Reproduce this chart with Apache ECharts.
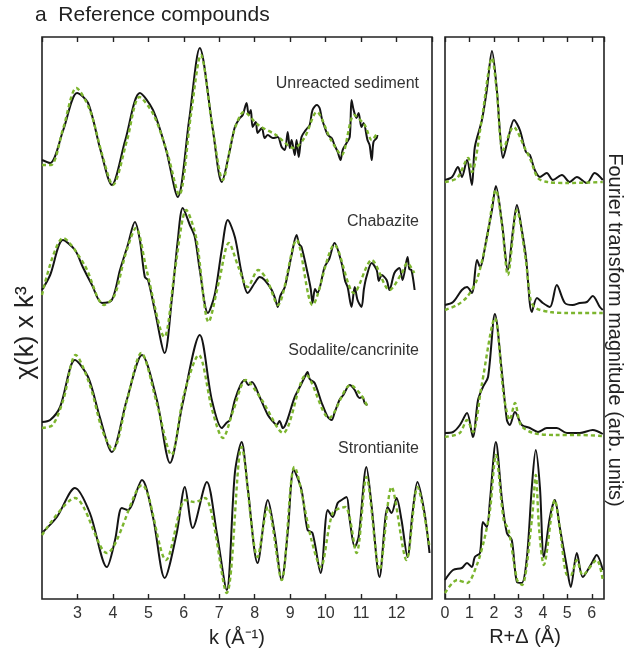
<!DOCTYPE html>
<html>
<head>
<meta charset="utf-8">
<script src="https://cdn.jsdelivr.net/npm/echarts@6/dist/echarts.min.js"></script>
<style>
  html, body { margin: 0; padding: 0; background: #fff; }
  #chart { width: 628px; height: 654px; }
</style>
</head>
<body>
<div id="chart"></div>
<script>
// EXAFS chi(k)*k^3, stacked traces (arbitrary units), [k, value]
var sedimentData = [[2.0,439],[2.23,436],[2.6,469],[2.99,506],[3.3,496],[3.65,449],[3.97,414],[4.35,459],[4.76,506],[5.13,489],[5.5,449],[5.83,402],[6.15,479],[6.45,551],[6.82,469],[7.07,417],[7.3,449],
  [7.44,472],[7.58,481],[7.66,484],[7.77,496],[7.83,484],[7.89,489],[7.94,472],[8.03,477],[8.08,466],[8.2,471],[8.28,461],[8.37,464],[8.51,461],[8.65,462],[8.76,452],[8.85,449],[8.93,467],[8.99,451],[9.04,459],[9.13,444],[9.18,459],[9.24,442],[9.32,462],[9.44,469],[9.55,474],[9.63,489],[9.75,494],[9.83,491],[9.89,481],[9.97,472],[10.06,464],[10.17,461],[10.25,454],[10.34,447],[10.42,439],[10.48,449],[10.59,456],[10.68,462],[10.73,499],[10.79,489],[10.87,481],[10.93,486],[11.01,472],[11.07,476],[11.18,459],[11.24,454],[11.3,439],[11.35,457],[11.44,461],[11.46,464]];
var sedimentFit = [[2.0,434],[2.25,434],[2.6,471],[2.97,511],[3.35,489],[3.7,444],[4.0,414],[4.4,459],[4.75,502],[5.15,484],[5.55,444],[5.87,404],[6.2,484],[6.48,544],[6.8,474],[7.1,419],[7.4,466],[7.7,487],[8.1,474],[8.6,464],[9.1,451],[9.4,461],[9.75,487],[10.15,459],[10.45,444],[10.8,484],[11.1,474],[11.3,459],[11.46,466]];

var chabaziteData = [[2.0,309],[2.23,324],[2.59,359],[2.93,349],[3.15,332],[3.41,314],[3.69,296],[3.97,299],[4.2,329],[4.42,354],[4.62,377],[4.76,359],[4.9,322],[4.99,319],[5.18,289],[5.46,246],[5.66,299],[5.83,359],[5.97,391],[6.17,374],[6.31,362],[6.45,329],[6.68,286],[6.87,304],[7.07,349],[7.24,379],[7.44,362],[7.63,326],[7.8,306],[8.0,316],[8.14,322],[8.28,319],[8.48,309],[8.58,300],[8.65,292],[8.72,303],[8.85,312],[9.04,344],[9.18,364],[9.25,355],[9.32,352],[9.49,326],[9.58,310],[9.63,296],[9.7,310],[9.77,306],[9.97,332],[10.1,340],[10.25,356],[10.45,336],[10.55,318],[10.62,312],[10.73,292],[10.82,312],[10.9,299],[11.01,292],[11.08,310],[11.15,322],[11.3,336],[11.44,329],[11.5,318],[11.58,324],[11.72,319],[11.8,309],[11.94,326],[12.08,331],[12.17,319],[12.31,342],[12.36,330],[12.42,329],[12.51,309]];
var chabaziteFit = [[2.0,304],[2.6,361],[3.2,334],[3.75,294],[4.05,304],[4.35,344],[4.65,371],[4.95,329],[5.45,262],[5.75,329],[6.07,389],[6.35,361],[6.7,277],[7.0,319],[7.27,356],[7.55,331],[7.8,312],[8.1,329],[8.35,319],[8.65,294],[9.18,359],[9.63,294],[10.25,354],[10.8,306],[11.3,339],[11.8,309],[12.15,326],[12.3,336],[12.5,326]];

var sodaliteData = [[2.0,177],[2.23,179],[2.51,192],[2.93,239],[3.3,222],[3.63,182],[3.97,147],[4.39,199],[4.82,244],[5.24,199],[5.61,136],[5.97,196],[6.45,264],[6.79,199],[7.07,171],[7.2,176],[7.3,179],[7.44,199],[7.6,214],[7.72,219],[7.82,214],[7.92,217],[8.14,202],[8.37,184],[8.5,178],[8.62,174],[8.7,178],[8.79,171],[9.13,202],[9.3,214],[9.41,222],[9.49,227],[9.55,220],[9.69,216],[9.89,196],[10.06,182],[10.17,179],[10.25,186],[10.39,199],[10.5,204],[10.68,214],[10.82,209],[10.9,203],[10.96,201],[11.04,202],[11.1,196],[11.18,194]];
var sodaliteFit = [[2.0,171],[2.3,174],[2.6,199],[2.95,244],[3.35,214],[3.7,169],[4.0,149],[4.4,199],[4.8,246],[5.25,194],[5.65,144],[6.0,204],[6.42,244],[6.8,189],[7.1,161],[7.4,189],[7.75,219],[8.2,199],[8.8,166],[9.45,224],[10.1,181],[10.7,214],[11.0,204],[11.2,191]];

var strontianiteData = [[2.0,66],[2.42,82],[2.93,111],[3.35,86],[3.83,32],[4.06,59],[4.25,91],[4.42,89],[4.82,119],[5.13,82],[5.46,21],[5.8,66],[6.03,112],[6.25,71],[6.65,117],[6.93,66],[7.21,9],[7.44,126],[7.63,157],[7.8,112],[8.08,36],[8.37,99],[8.56,66],[8.76,19],[8.93,66],[9.1,129],[9.32,109],[9.49,69],[9.63,66],[9.86,26],[10.06,89],[10.2,82],[10.34,96],[10.45,99],[10.59,102],[10.68,79],[10.82,52],[10.93,62],[11.15,132],[11.3,92],[11.52,22],[11.75,92],[11.86,86],[12.0,101],[12.14,79],[12.31,42],[12.45,86],[12.59,117],[12.79,86],[12.93,46]];
var strontianiteFit = [[2.0,64],[2.93,101],[3.83,46],[4.82,114],[5.5,39],[6.05,99],[6.3,97],[6.6,101],[7.21,6],[7.63,152],[8.08,42],[8.37,92],[8.76,19],[9.12,132],[9.6,59],[9.86,32],[10.2,86],[10.55,92],[10.87,46],[11.15,122],[11.52,29],[11.86,112],[12.28,39],[12.59,112],[12.93,52]];

// Fourier transform magnitude, stacked (arb. units), [R, value]
var sedimentFT = [[0,419],[0.29,422],[0.53,432],[0.69,422],[0.9,439],[1.1,414],[1.22,452],[1.51,479],[1.71,509],[1.92,548],[2.12,509],[2.24,469],[2.37,441],[2.57,459],[2.82,479],[3.06,469],[3.31,447],[3.47,444],[3.67,429],[3.88,422],[4.16,426],[4.41,419],[4.78,424],[5.1,417],[5.39,422],[5.8,416],[6.12,426],[6.45,419]];
var sedimentFTFit = [[0,417],[0.5,421],[0.95,441],[1.1,427],[1.5,479],[1.92,541],[2.12,507],[2.37,449],[2.8,472],[3.3,449],[3.47,441],[3.8,421],[4.2,417],[5.0,416],[6.45,417]];
var chabaziteFT = [[0,294],[0.33,297],[0.69,309],[0.9,312],[1.1,306],[1.31,339],[1.43,332],[1.71,362],[1.92,389],[2.08,413],[2.33,376],[2.57,329],[2.78,369],[2.94,394],[3.14,369],[3.31,342],[3.55,287],[3.76,301],[4.0,296],[4.29,292],[4.57,314],[4.9,296],[5.22,294],[5.51,296],[5.8,297],[6.04,303],[6.33,292],[6.45,289]];
var chabaziteFTFit = [[0,289],[0.5,294],[0.9,302],[1.3,319],[1.7,359],[2.08,409],[2.33,374],[2.57,324],[2.94,389],[3.3,339],[3.5,299],[3.7,291],[4.3,287],[5.0,286],[6.45,286]];
var sodaliteFT = [[0,166],[0.33,167],[0.61,174],[0.9,186],[1.14,162],[1.35,199],[1.55,212],[1.76,222],[2.04,285],[2.33,226],[2.53,179],[2.65,174],[2.86,187],[3.14,174],[3.47,171],[3.8,167],[4.16,171],[4.57,171],[4.98,166],[5.51,166],[6.04,169],[6.45,165]];
var sodaliteFTFit = [[0,162],[0.6,166],[0.9,179],[1.14,167],[1.5,214],[2.04,281],[2.4,204],[2.65,179],[2.86,196],[3.1,174],[3.6,166],[4.5,164],[5.5,164],[6.45,163]];
var strontianiteFT = [[0,19],[0.33,29],[0.69,31],[0.9,36],[1.1,32],[1.22,42],[1.43,46],[1.55,77],[1.71,72],[1.84,99],[2.08,157],[2.33,99],[2.53,66],[2.73,59],[2.94,17],[3.14,16],[3.35,42],[3.55,112],[3.71,149],[3.88,112],[4.04,42],[4.29,82],[4.49,99],[4.69,72],[4.98,32],[5.14,12],[5.39,46],[5.63,22],[6.0,36],[6.2,44],[6.45,29]];
var strontianiteFTFit = [[0,6],[0.5,19],[0.9,16],[1.3,34],[1.6,59],[1.84,89],[2.08,144],[2.4,79],[2.6,69],[2.95,19],[3.15,14],[3.55,79],[3.71,124],[3.85,69],[4.04,34],[4.49,99],[4.7,69],[5.0,24],[5.14,24],[5.39,39],[5.63,24],[6.2,39],[6.45,19]];

var traceNames = ["Unreacted sediment", "Chabazite", "Sodalite/cancrinite", "Strontianite"];

var FONT = "Liberation Sans, Arial, sans-serif";
var BLACK = "#141414";
var GREEN = "#7cb52e";

var chart = echarts.init(document.getElementById("chart"));

function xAx(gi, min, max, top) {
  return {
    type: "value", gridIndex: gi, min: min, max: max, interval: 1,
    position: top ? "top" : "bottom",
    axisLine: { show: false },
    axisTick: { show: true, inside: true, length: 5, lineStyle: { color: "#222", width: 1.4 } },
    splitLine: { show: false },
    axisLabel: {
      show: !top, margin: 7, color: "#333", fontSize: 16, fontFamily: FONT,
      showMinLabel: gi === 1, showMaxLabel: false
    }
  };
}

function line(data, gi, fit) {
  return {
    type: "line", xAxisIndex: gi, yAxisIndex: gi, data: data,
    symbol: "none", smooth: 0.3, silent: true,
    lineStyle: fit
      ? { color: GREEN, width: 2.4, type: [4, 3] }
      : { color: BLACK, width: 2 }
  };
}

var series = [];
[[sedimentData, sedimentFit], [chabaziteData, chabaziteFit],
 [sodaliteData, sodaliteFit], [strontianiteData, strontianiteFit]].forEach(function (p) {
  series.push(line(p[0], 0, false));
  series.push(line(p[1], 0, true));
});
[[sedimentFT, sedimentFTFit], [chabaziteFT, chabaziteFTFit],
 [sodaliteFT, sodaliteFTFit], [strontianiteFT, strontianiteFTFit]].forEach(function (p) {
  series.push(line(p[0], 1, false));
  series.push(line(p[1], 1, true));
});

var labelY = [84, 222, 351, 449];
var graphics = [
  { type: "text", left: 35, top: 5, style: { text: "a  Reference compounds", fontSize: 21, fontFamily: FONT, fill: "#222" } },
  { type: "text", x: 26, y: 333, rotation: Math.PI / 2,
    style: { text: "χ(k) x k³", fontSize: 26, fontFamily: FONT, fill: "#222", textAlign: "center", textVerticalAlign: "middle" } },
  { type: "text", x: 615, y: 330, rotation: -Math.PI / 2,
    style: { text: "Fourier transform magnitude (arb. units)", fontSize: 20, fontFamily: FONT, fill: "#222", textAlign: "center", textVerticalAlign: "middle" } },
  { type: "text", x: 237, y: 638,
    style: { text: "k (Å⁻¹)", fontSize: 20, fontFamily: FONT, fill: "#222", textAlign: "center", textVerticalAlign: "middle" } },
  { type: "text", x: 525, y: 637,
    style: { text: "R+Δ (Å)", fontSize: 20, fontFamily: FONT, fill: "#222", textAlign: "center", textVerticalAlign: "middle" } }
];
traceNames.forEach(function (n, i) {
  graphics.push({ type: "text", x: 419, y: labelY[i],
    style: { text: n, fontSize: 16, fontFamily: FONT, fill: "#333", textAlign: "right", textVerticalAlign: "middle" } });
});

chart.setOption({
  animation: false,
  backgroundColor: "#fff",
  grid: [
    { left: 42, top: 37, width: 390, height: 562, show: true, borderColor: "#222", borderWidth: 1.6, backgroundColor: "transparent" },
    { left: 445, top: 37, width: 159, height: 562, show: true, borderColor: "#222", borderWidth: 1.6, backgroundColor: "transparent" }
  ],
  xAxis: [xAx(0, 2, 13, false), xAx(1, 0, 6.5, false), xAx(0, 2, 13, true), xAx(1, 0, 6.5, true)],
  yAxis: [
    { type: "value", gridIndex: 0, min: 0, max: 562, show: false },
    { type: "value", gridIndex: 1, min: 0, max: 562, show: false }
  ],
  graphic: graphics,
  series: series
});
</script>
</body>
</html>
